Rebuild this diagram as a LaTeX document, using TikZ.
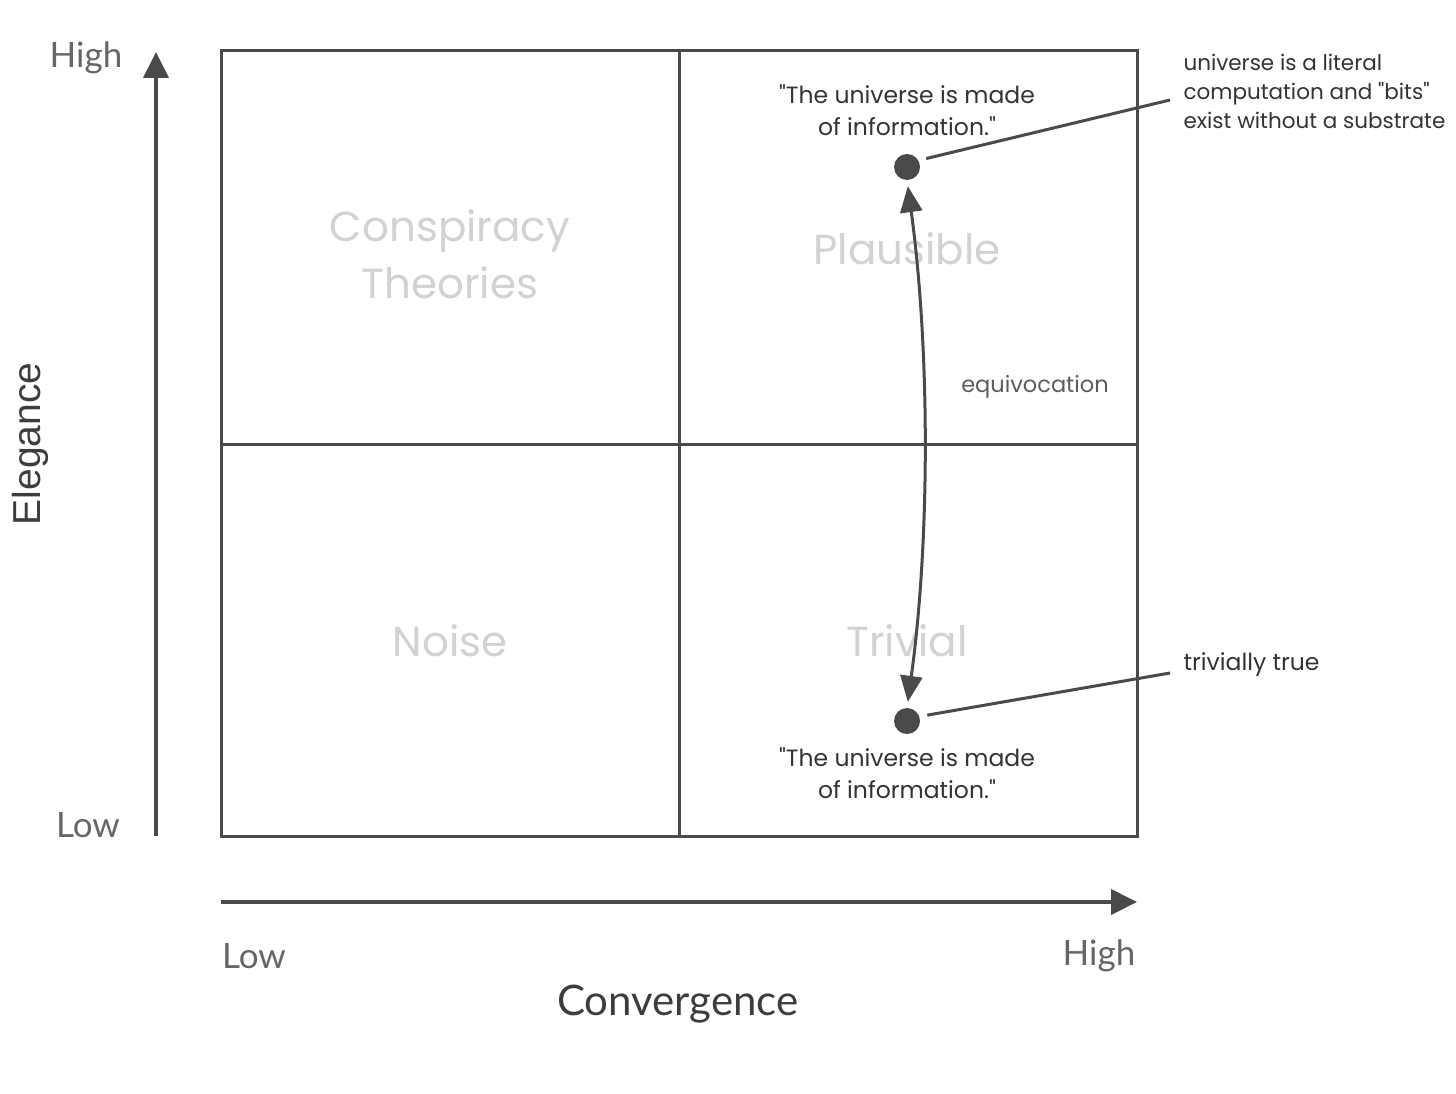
\documentclass[tikz,border=0pt]{standalone}
\usepackage{fontspec}
\setmainfont{Poppins}[Ligatures=TeXOff]
\newfontfamily\axisfont{Lato}
\newfontfamily\arialfont{Liberation Sans}
\usetikzlibrary{arrows.meta, positioning}
\definecolor{linegray}{HTML}{4A4A4A}
\definecolor{textgray}{HTML}{333333}
\definecolor{axisgray}{HTML}{666666}
\definecolor{quadgray}{HTML}{D2D2D2}

\begin{document}
\begin{tikzpicture}[x=1pt, y=-1pt,
    boxline/.style={draw=linegray, line width=3pt},
    axisline/.style={draw=linegray, line width=4pt, -{Triangle[width=25pt, length=26pt]}},
    quad/.style={text=quadgray, font=\fontsize{42}{57}\selectfont, align=center},
    quote/.style={text=textgray, font=\fontsize{23.5}{32}\selectfont, align=center},
    note/.style={text=textgray, font=\fontsize{21.5}{29}\selectfont, align=left, anchor=west},
    tick/.style={text=axisgray, font=\axisfont\fontsize{35}{40}\selectfont},
    dot/.style={circle, fill=linegray, inner sep=0pt, minimum size=26pt},
    leader/.style={draw=linegray, line width=3pt}
  ]
  \useasboundingbox (0,0) rectangle (1456,1094);

  % the four quadrants
  \draw[boxline] (221,51) rectangle (1137,836);
  \draw[boxline] (679,51) -- (679,836);
  \draw[boxline] (221,444) -- (1137,444);

  % axes
  \draw[axisline] (156,836) -- (156,52);
  \draw[axisline] (221,902) -- (1137,902);
  \node[tick] (yhigh) at (86,58) {High};
  \node[tick] (ylow) at (88,825) {Low};
  \node[tick] (xlow) at (254,956) {Low};
  \node[tick] (xhigh) at (1099,956) {High};
  \node[text=textgray!80!axisgray, font=\axisfont\fontsize{42}{48}\selectfont] (xname) at (678,1004) {Convergence};
  \node[text=textgray!80!axisgray, font=\arialfont\fontsize{39}{44}\selectfont, rotate=90] (yname) at (30,444) {Elegance};

  % quadrant names
  \node[quad] (consp) at (450,254) {Conspiracy\\Theories};
  \node[quad] (plaus) at (907,249) {Plausible};
  \node[quad] (noise) at (450,641) {Noise};
  \node[quad] (triv) at (907,641) {Trivial};

  % the two readings
  \node[dot] (hi) at (907,167) {};
  \node[dot] (lo) at (907,721) {};
  \node[quote] (hiquote) at (907,110) {"The universe is made\\of information."};
  \node[quote] (loquote) at (907,773) {"The universe is made\\of information."};

  \draw[draw=linegray, line width=3pt, {Triangle[width=22pt, length=26pt]}-{Triangle[width=22pt, length=26pt]},
        shorten <=6pt, shorten >=6pt]
    (lo.north) .. controls (930,540) and (930,350) .. (hi.south);
  \node[text=axisgray!80!textgray, font=\fontsize{22.5}{28}\selectfont] (equiv) at (1035,387) {equivocation};

  % annotations
  \coordinate (hiend) at (1170,100);
  \coordinate (loend) at (1170,673);
  \draw[leader, shorten <=8pt] (hi.30) -- (hiend);
  \draw[leader, shorten <=8pt] (lo.20) -- (loend);
  \node[note] (hinote) at (1180,91) {universe is a literal\\computation and "bits"\\exist without a substrate};
  \node[note, font=\fontsize{23.5}{29}\selectfont] (lonote) at (1180,665) {trivially true};
\end{tikzpicture}
\end{document}
